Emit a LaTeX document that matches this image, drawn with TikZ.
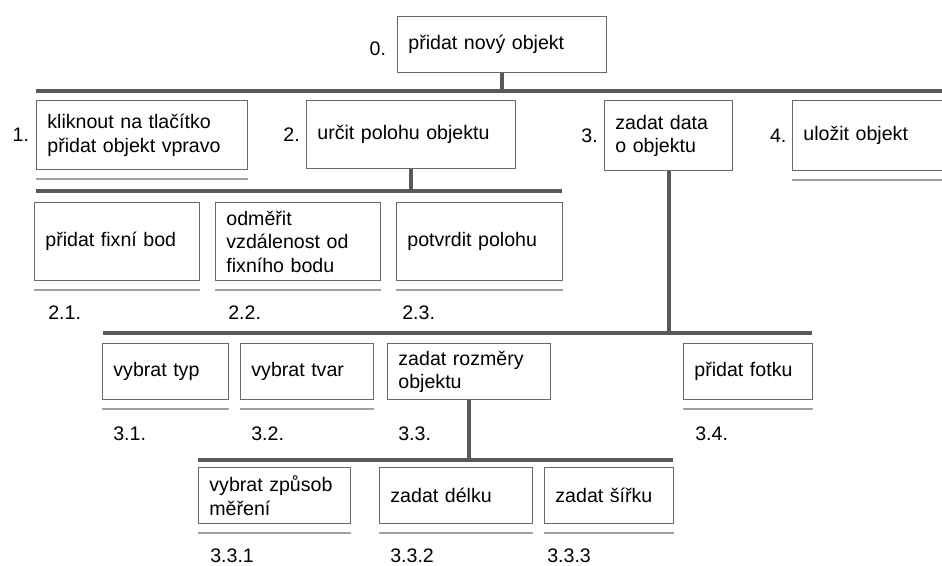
\documentclass[tikz,border=0pt]{standalone}
\usepackage{fontspec}
\setmainfont{Liberation Sans}
\usetikzlibrary{positioning}
\definecolor{bargray}{RGB}{89,89,89}
\definecolor{boxgray}{RGB}{105,105,105}
\definecolor{linegray}{RGB}{160,160,160}
\tikzset{
box/.style={draw=boxgray, line width=1.1pt, anchor=north west, inner xsep=8pt, inner ysep=1pt, align=left, font=\fontsize{14.7}{17.6}\selectfont},
num/.style={inner sep=0pt, font=\fontsize{14.7}{17.6}\selectfont},
bar/.style={draw=bargray, line width=3pt},
underl/.style={draw=linegray, line width=1.5pt}
}
\begin{document}
\begin{tikzpicture}[x=0.75pt,y=0.75pt,yscale=-1,xscale=1]
\useasboundingbox (0,0) rectangle (942,566);

%Shape: Rectangle [id:B0]
\node[box, text width=140.75pt, minimum height=42pt] (B0) at (397,16) {přidat nový objekt};
%Shape: Rectangle [id:B1]
\node[box, text width=142.25pt, minimum height=51.75pt] (B1) at (36,100) {kliknout na tlačítko\\přidat objekt vpravo};
%Shape: Rectangle [id:B2]
\node[box, text width=140.75pt, minimum height=51pt] (B2) at (306,100) {určit polohu objektu};
%Shape: Rectangle [id:B3]
\node[box, text width=80pt, minimum height=52.5pt] (B3) at (604,100) {zadat data\\o objektu};
%Shape: Rectangle [id:B4]
\node[box, text width=104pt, minimum height=52.5pt] (B4) at (792,100) {uložit objekt};

%Shape: Rectangle [id:B21]
\node[box, text width=107.75pt, minimum height=58.5pt] (B21) at (34,202) {přidat fixní bod};
%Shape: Rectangle [id:B22]
\node[box, text width=107.75pt, minimum height=58.5pt] (B22) at (215,202) {odměřit\\vzdálenost od\\fixního bodu};
%Shape: Rectangle [id:B23]
\node[box, text width=108.5pt, minimum height=58.5pt] (B23) at (396,202) {potvrdit polohu};

%Shape: Rectangle [id:B31]
\node[box, text width=78.5pt, minimum height=42pt] (B31) at (102,343) {vybrat typ};
%Shape: Rectangle [id:B32]
\node[box, text width=83.75pt, minimum height=42pt] (B32) at (240,343) {vybrat tvar};
%Shape: Rectangle [id:B33]
\node[box, text width=106.25pt, minimum height=42pt] (B33) at (387,343) {zadat rozměry\\objektu};
%Shape: Rectangle [id:B34]
\node[box, text width=80.75pt, minimum height=42pt] (B34) at (683,343) {přidat fotku};

%Shape: Rectangle [id:B331]
\node[box, text width=98pt, minimum height=42pt] (B331) at (198,467) {vybrat způsob\\měření};
%Shape: Rectangle [id:B332]
\node[box, text width=98.75pt, minimum height=42pt] (B332) at (379,467) {zadat délku};
%Shape: Rectangle [id:B333]
\node[box, text width=80.75pt, minimum height=42pt] (B333) at (544,467) {zadat šířku};

%Straight Lines: bars
\coordinate (L1a) at (36,91);  \coordinate (L1b) at (946,91);
\coordinate (L2a) at (36,191); \coordinate (L2b) at (562,191);
\coordinate (L3a) at (103,333); \coordinate (L3b) at (812,333);
\coordinate (L4a) at (198,460); \coordinate (L4b) at (673,460);
\draw[bar] (L1a) -- (L1b);
\draw[bar] (L2a) -- (L2b);
\draw[bar] (L3a) -- (L3b);
\draw[bar] (L4a) -- (L4b);
%Straight Lines: stems
\draw[bar] (B0.south) -- (B0.south |- L1a);
\draw[bar] (B2.south) -- (B2.south |- L2a);
\draw[bar] (B3.south) -- (B3.south |- L3a);
\draw[bar] (B33.south) -- (B33.south |- L4a);

%Straight Lines: underlines
\foreach \n in {B1,B4,B21,B22,B23,B31,B32,B34,B331,B332,B333}
  \draw[underl] ([yshift=6.75pt]\n.south west) -- ([yshift=6.75pt]\n.south east);

% Text Node
\node[num, left=8pt of B0, yshift=-3pt] (n0) {0.};
% Text Node
\node[num, left=5pt of B1] (n1) {1.};
% Text Node
\node[num, left=4.5pt of B2] (n2) {2.};
% Text Node
\node[num, left=4.5pt of B3] (n3) {3.};
% Text Node
\node[num, left=4pt of B4] (n4) {4.};

% Text Node
\node[num, anchor=base west] (n21) at (48,320) {2.1.};
\node[num, anchor=base west] (n22) at (228,320) {2.2.};
\node[num, anchor=base west] (n23) at (402,320) {2.3.};
% Text Node
\node[num, anchor=base west] (n31) at (113,440) {3.1.};
\node[num, anchor=base west] (n32) at (251,440) {3.2.};
\node[num, anchor=base west] (n33) at (398,440) {3.3.};
\node[num, anchor=base west] (n34) at (695,440) {3.4.};
% Text Node
\node[num, anchor=base west] (n331) at (210,562) {3.3.1};
\node[num, anchor=base west] (n332) at (390,562) {3.3.2};
\node[num, anchor=base west] (n333) at (547,562) {3.3.3};
\end{tikzpicture}
\end{document}
